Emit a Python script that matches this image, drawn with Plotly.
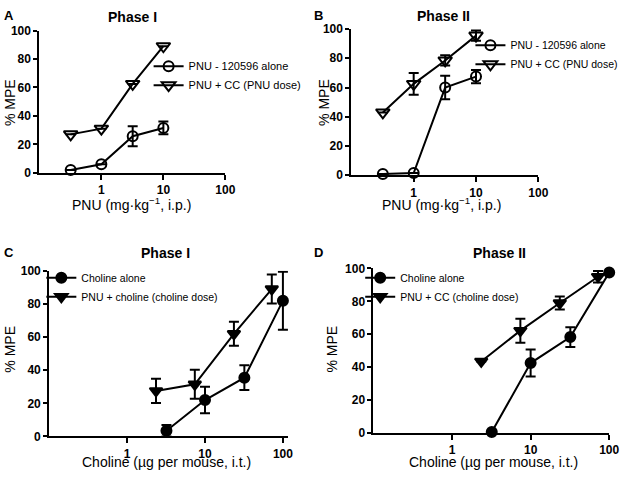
import plotly.graph_objects as go

W, H = 632, 483

# ---------------- data ----------------
pnu_dose = [0.32, 1, 3.2, 10]
a_alone = [2, 6, 25.7, 31.5]
a_alone_err = [0, 0, 7, 4.5]
a_cc = [27, 31, 62.5, 89]
a_cc_err = [0, 0, 0, 0]

b_alone = [0.8, 1.5, 60, 67.5]
b_alone_err = [0, 0, 8, 4.5]
b_cc = [43, 62.5, 78.5, 95.5]
b_cc_err = [0, 7.5, 3.5, 3.5]

choline_dose = [3.2, 10, 32, 100]
choline_dose_comb = [2.35, 7.4, 23.5, 72]
c_alone = [3.5, 22, 35.5, 82]
c_alone_err = [3.5, 8, 7.5, 17.5]
c_pnu = [27.5, 31.5, 62, 89]
c_pnu_err = [7.3, 8.8, 7.3, 8.8]

d_alone = [0.6, 42.5, 58.3, 97.5]
d_alone_err = [0, 8.2, 6, 0]
d_pnu = [43.5, 62.2, 79, 95]
d_pnu_err = [0, 7.3, 4, 3.5]

y_ticks = [0, 20, 40, 60, 80, 100]
y_ticklabels = ["<b>%d</b>" % v for v in y_ticks]
x_ticks = [1, 10, 100]
x_ticklabels = ["<b>1</b>", "<b>10</b>", "<b>100</b>"]

FONT = "Liberation Sans, Arial, Helvetica, sans-serif"

# panel geometry in pixels: (left, right, top, bottom, xmax_log)
panels = {
    "A": (40, 229, 24.3, 170.7, 2.0),
    "B": (357, 547, 22.7, 173.3, 2.0),
    "C": (50, 293, 271.7, 442.3, 2.07),
    "D": (379.5, 619, 269.3, 438.7, 2.0),
}

fig = go.Figure()


def px_x(v):
    return v / W


def px_y(v):
    return 1 - v / H


def add_series(idx, x, y, err, name, symbol, size, legend):
    fig.add_trace(go.Scatter(
        x=x, y=y, name=name, mode="lines+markers",
        xaxis="x" if idx == 1 else f"x{idx}",
        yaxis="y" if idx == 1 else f"y{idx}",
        line=dict(color="black", width=2),
        marker=dict(symbol=symbol, size=size, color="black",
                    line=dict(color="black", width=2)),
        error_y=dict(type="data", array=err, visible=True,
                     color="black", thickness=2, width=5),
        cliponaxis=False,
        legend=legend,
        hoverinfo="skip",
    ))


add_series(1, pnu_dose, a_alone, a_alone_err, "PNU - 120596 alone", "circle-open", 10, "legend")
add_series(1, pnu_dose, a_cc, a_cc_err, "PNU + CC (PNU dose)", "triangle-down-open", 12, "legend")
add_series(2, pnu_dose, b_alone, b_alone_err, "PNU - 120596 alone", "circle-open", 10, "legend2")
add_series(2, pnu_dose, b_cc, b_cc_err, "PNU + CC (PNU dose)", "triangle-down-open", 12, "legend2")
add_series(3, choline_dose, c_alone, c_alone_err, "Choline alone", "circle", 10, "legend3")
add_series(3, choline_dose_comb, c_pnu, c_pnu_err, "PNU + choline (choline dose)", "triangle-down", 11, "legend3")
add_series(4, choline_dose, d_alone, d_alone_err, "Choline alone", "circle", 10, "legend4")
add_series(4, choline_dose_comb, d_pnu, d_pnu_err, "PNU + CC (choline dose)", "triangle-down", 11, "legend4")

layout = dict(
    width=W, height=H,
    margin=dict(l=0, r=0, t=0, b=0),
    paper_bgcolor="white", plot_bgcolor="white",
    font=dict(family=FONT, color="black"),
)

for i, key in enumerate(["A", "B", "C", "D"], start=1):
    l, r, t, b, xmax = panels[key]
    xa = "xaxis" if i == 1 else f"xaxis{i}"
    ya = "yaxis" if i == 1 else f"yaxis{i}"
    xn = "x" if i == 1 else f"x{i}"
    yn = "y" if i == 1 else f"y{i}"
    layout[xa] = dict(
        domain=[px_x(l), px_x(r)], anchor=yn, type="log", range=[-1, xmax],
        tickvals=x_ticks, ticktext=x_ticklabels,
        showline=True, linecolor="black", linewidth=2,
        ticks="outside", ticklen=5, tickwidth=2, tickcolor="black",
        showgrid=False, zeroline=False,
        tickfont=dict(family=FONT, size=12),
    )
    layout[ya] = dict(
        domain=[px_y(b), px_y(t)], anchor=xn, range=[0, 100],
        tickvals=y_ticks, ticktext=y_ticklabels,
        showline=True, linecolor="black", linewidth=2,
        ticks="outside", ticklen=4, tickwidth=2, tickcolor="black",
        showgrid=False, zeroline=False,
        tickfont=dict(family=FONT, size=12),
    )

legend_common = dict(
    xref="paper", yref="paper", xanchor="left", yanchor="top",
    bgcolor="rgba(0,0,0,0)", itemwidth=30, tracegroupgap=0,
    font=dict(family=FONT, size=11, color="black"),
    itemclick=False, itemdoubleclick=False,
)
small = dict(family=FONT, size=10.5, color="black")
layout["legend"] = dict(legend_common, x=px_x(151), y=px_y(46))
layout["legend2"] = dict(legend_common, x=px_x(478), y=px_y(24.5), font=small)
layout["legend3"] = dict(legend_common, x=px_x(42), y=px_y(264), font=small)
layout["legend4"] = dict(legend_common, x=px_x(366), y=px_y(264), font=small)
layout["showlegend"] = True
layout["hovermode"] = False

annotations = []


def text(x, y, s, size, bold=False, angle=0, xanchor="center"):
    annotations.append(dict(
        x=px_x(x), y=px_y(y), xref="paper", yref="paper", text=s,
        showarrow=False, xanchor=xanchor, yanchor="middle", textangle=angle,
        font=dict(family=FONT, size=size, color="black",
                  weight="bold" if bold else "normal"),
    ))


# panel letters
text(2, 9, "A", 13, True, xanchor="left")
text(317, 9, "B", 13, True, xanchor="left")
text(2, 253, "C", 13, True, xanchor="left")
text(317, 253, "D", 13, True, xanchor="left")
# titles
text(135, 10, "Phase I", 14, True)
text(451, 9, "Phase II", 14, True)
text(168, 253, "Phase I", 14, True)
text(508, 253, "Phase II", 14, True)
# x axis titles
text(134, 203, "PNU (mg·kg<sup>−1</sup>, i.p.)", 14)
text(449, 203, "PNU (mg·kg<sup>−1</sup>, i.p.)", 14)
text(169, 469, "Choline (µg per mouse, i.t.)", 14)
text(501, 469, "Choline (µg per mouse, i.t.)", 14)
# y axis titles
text(10, 98, "% MPE", 14, angle=-90)
text(329, 98, "% MPE", 14, angle=-90)
text(10, 352, "% MPE", 14, angle=-90)
text(337, 352, "% MPE", 14, angle=-90)

layout["annotations"] = annotations

fig.update_layout(**layout)
fig.write_html(
    "out.html",
    config={"displayModeBar": False},
    post_script="document.body.style.margin='0';document.body.style.overflow='hidden';",
)
